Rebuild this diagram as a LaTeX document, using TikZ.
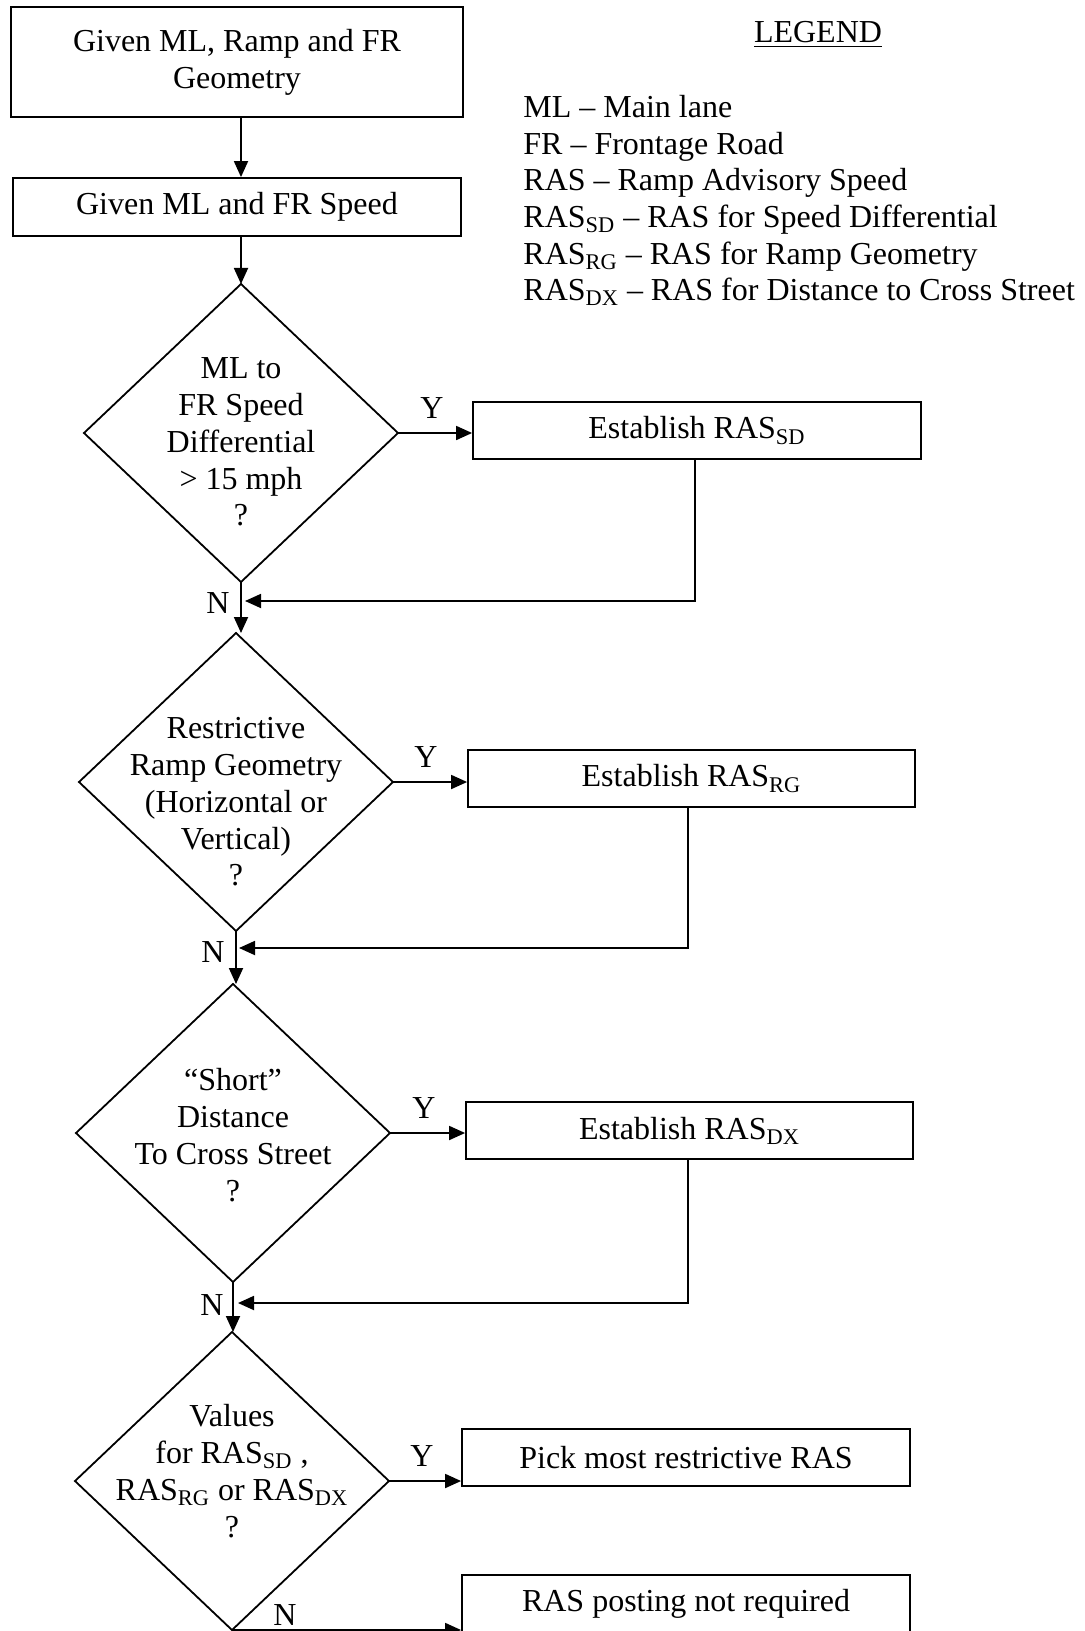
\documentclass[tikz,border=0pt]{standalone}
\usepackage{fontspec}
\setmainfont{Liberation Serif}
\usetikzlibrary{shapes.geometric,arrows.meta,calc}
\begin{document}
\begin{tikzpicture}[x=0.5pt,y=-0.5pt,
  base/.style={font=\fontsize{16pt}{18.4pt}\selectfont},
  legendfont/.style={font=\fontsize{16pt}{18.3pt}\selectfont},
  box/.style={draw, line width=0.9pt, rectangle, inner sep=0pt, align=center, base},
  dia/.style={draw, line width=0.9pt, diamond, inner sep=0pt, outer sep=0pt, minimum width=157pt, minimum height=149pt},
  txt/.style={align=center, inner sep=0pt, base},
  arr/.style={line width=0.9pt, -{Triangle[length=8pt,width=7pt]}},
  lab/.style={base, inner sep=0pt, anchor=base}]
\useasboundingbox (0,0) rectangle (1085,1631);
\clip (0,0) rectangle (1085,1631);

% top boxes
\node[box, minimum width=226pt, minimum height=55pt] (b1) at (237,62) {Given ML, Ramp and FR\\Geometry};
\node[box, minimum width=224pt, minimum height=29pt] (b2) at (237,207) {Given ML and FR Speed};

% legend
\node[legendfont, inner sep=0pt, anchor=base] (lg) at (818,43) {\underline{LEGEND}};
\node[legendfont, inner sep=0pt, align=left, anchor=north west] (lgt) at (523,95)
  {ML – Main lane\\FR – Frontage Road\\RAS – Ramp Advisory Speed\\RAS\textsubscript{SD} – RAS for Speed Differential\\RAS\textsubscript{RG} – RAS for Ramp Geometry\\RAS\textsubscript{DX} – RAS for Distance to Cross Street};

% diamonds
\node[dia] (d1) at (241,433) {};
\node[txt] (t1) at (241,442) {ML to\\FR Speed\\Differential\\\textgreater{} 15 mph\\?};
\node[dia] (d2) at (236,782) {};
\node[txt] (t2) at (236,802) {Restrictive\\Ramp Geometry\\(Horizontal or\\Vertical)\\?};
\node[dia] (d3) at (233,1133) {};
\node[txt] (t3) at (233,1135) {“Short”\\Distance\\To Cross Street\\?};
\node[dia] (d4) at (232,1481) {};
\node[txt] (t4) at (232,1471) {Values\\for RAS\textsubscript{SD} ,\\RAS\textsubscript{RG} or RAS\textsubscript{DX}\\?};

% right boxes
\node[box, minimum width=224pt, minimum height=28.5pt] (bsd) at (697,430.5) {Establish RAS\textsubscript{SD}};
\node[box, minimum width=223.5pt, minimum height=28.5pt] (brg) at (691.5,778.5) {Establish RAS\textsubscript{RG}};
\node[box, minimum width=223.5pt, minimum height=28.5pt] (bdx) at (689.5,1130.5) {Establish RAS\textsubscript{DX}};
\node[box, minimum width=224pt, minimum height=28.5pt] (bpick) at (686,1457.5) {Pick most restrictive RAS};
\node[box, minimum width=224pt, minimum height=28.5pt] (bnot) at (686,1603.5) {RAS posting not required};

% main flow
\draw[arr] (b1.south -| d1.north) -- (b2.north -| d1.north);
\draw[arr] (b2.south -| d1.north) -- (d1.north);
\draw[arr] (d1.south) -- (d1.south |- d2.north);
\draw[arr] (d2.south) -- (d2.south |- d3.north);
\draw[arr] (d3.south) -- (d3.south |- d4.north);

% yes branches
\draw[arr] (d1.east) -- (d1.east -| bsd.west);
\draw[arr] (d2.east) -- (d2.east -| brg.west);
\draw[arr] (d3.east) -- (d3.east -| bdx.west);
\draw[arr] (d4.east) -- (d4.east -| bpick.west);
\draw[arr] (d4.south) -- (d4.south -| bnot.west);

% returns
\coordinate (r1) at (695,0);
\coordinate (m1) at (245,601);
\draw[arr] (bsd.south -| r1) |- (m1);
\coordinate (r2) at (688,0);
\coordinate (m2) at (239,948);
\draw[arr] (brg.south -| r2) |- (m2);
\coordinate (r3) at (688,0);
\coordinate (m3) at (238,1303);
\draw[arr] (bdx.south -| r3) |- (m3);

% labels
\node[lab] (y1) at (432,418) {Y};
\node[lab] (n1) at (218,613) {N};
\node[lab] (y2) at (426,767) {Y};
\node[lab] (n2) at (213,962) {N};
\node[lab] (y3) at (424,1118) {Y};
\node[lab] (n3) at (212,1315) {N};
\node[lab] (y4) at (422,1466) {Y};
\node[lab] (n4) at (285,1625) {N};
\end{tikzpicture}
\end{document}
